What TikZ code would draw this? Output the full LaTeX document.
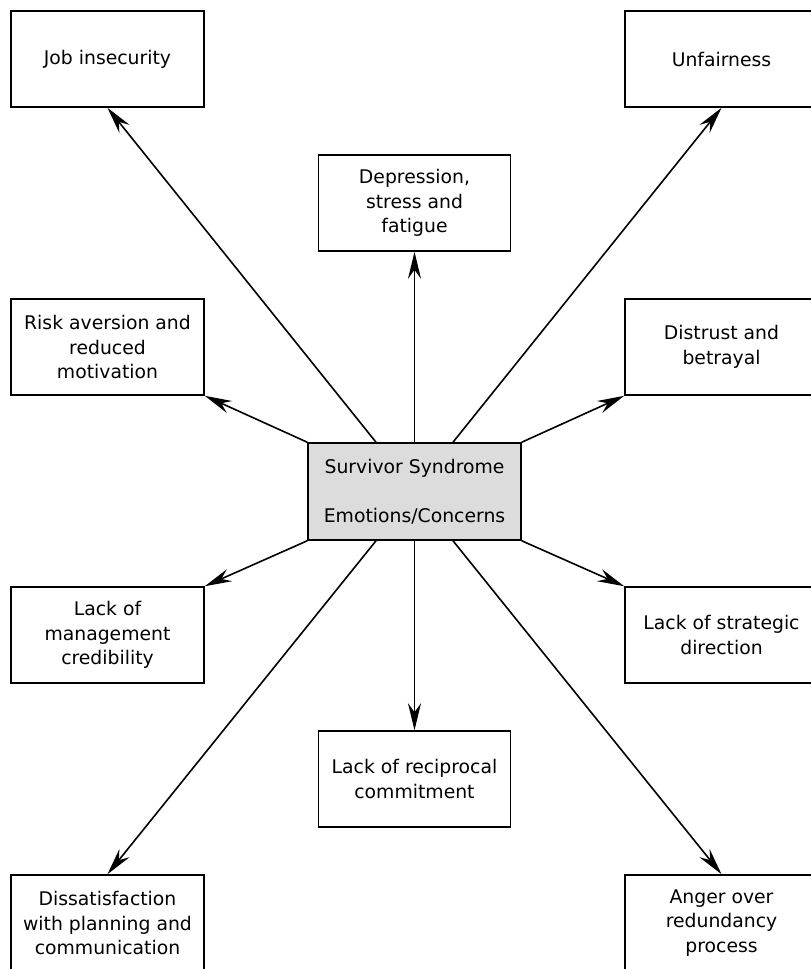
\documentclass[tikz,border=0pt]{standalone}
\usepackage{fontspec}
\setmainfont{DejaVu Sans}
\usepackage{xcolor}
\usetikzlibrary{arrows.meta}
\definecolor{centregray}{RGB}{220,220,220}

\begin{document}
\begin{tikzpicture}[x=1pt,y=-1pt,
  box/.style={draw, line width=1.6pt, minimum width=193pt, minimum height=96pt,
    align=center, inner sep=2pt, font=\fontsize{18.8}{24.5}\selectfont},
  midbox/.style={box, minimum width=192pt},
  arr/.style={line width=1.6pt, -{Stealth[length=27pt,width=13pt,inset=9pt]}}]
  \useasboundingbox (0,0) rectangle (811,969);
  \clip (0,0) rectangle (811,969);
  %The centre box:
  \node[box, fill=centregray, minimum width=213pt, minimum height=97pt] (centre) at (414.5,491.5)
    {Survivor Syndrome\\[25pt]Emotions/Concerns};
  %Left column:
  \node[box] (job) at (107.5,59) {Job insecurity};
  \node[box] (risk) at (107.5,347) {Risk aversion and\\reduced\\motivation};
  \node[box] (mgmt) at (107.5,635) {Lack of\\management\\credibility};
  \node[box] (dissat) at (107.5,923) {Dissatisfaction\\with planning and\\communication};
  %Middle column:
  \node[midbox] (depr) at (414.5,203) {Depression,\\stress and\\fatigue};
  \node[midbox] (recip) at (414.5,779) {Lack of reciprocal\\commitment};
  %Right column (cut off at the page edge):
  \node[box] (unfair) at (721.5,59) {Unfairness};
  \node[box] (distrust) at (721.5,347) {Distrust and\\betrayal};
  \node[box] (strat) at (721.5,635) {Lack of strategic\\direction};
  \node[box] (anger) at (721.5,923) {Anger over\\redundancy\\process};
  %The arrows out of the centre:
  \draw[arr] ([xshift=-38.5pt]centre.north) -- (job.south);
  \draw[arr] ([xshift=38.5pt]centre.north) -- (unfair.south);
  \draw[arr] (centre.north) -- (depr.south);
  \draw[arr] (centre.north west) -- (risk.south east);
  \draw[arr] (centre.north east) -- (distrust.south west);
  \draw[arr] (centre.south west) -- (mgmt.north east);
  \draw[arr] (centre.south east) -- (strat.north west);
  \draw[arr] (centre.south) -- (recip.north);
  \draw[arr] ([xshift=-38.5pt]centre.south) -- (dissat.north);
  \draw[arr] ([xshift=38.5pt]centre.south) -- (anger.north);
\end{tikzpicture}
\end{document}
